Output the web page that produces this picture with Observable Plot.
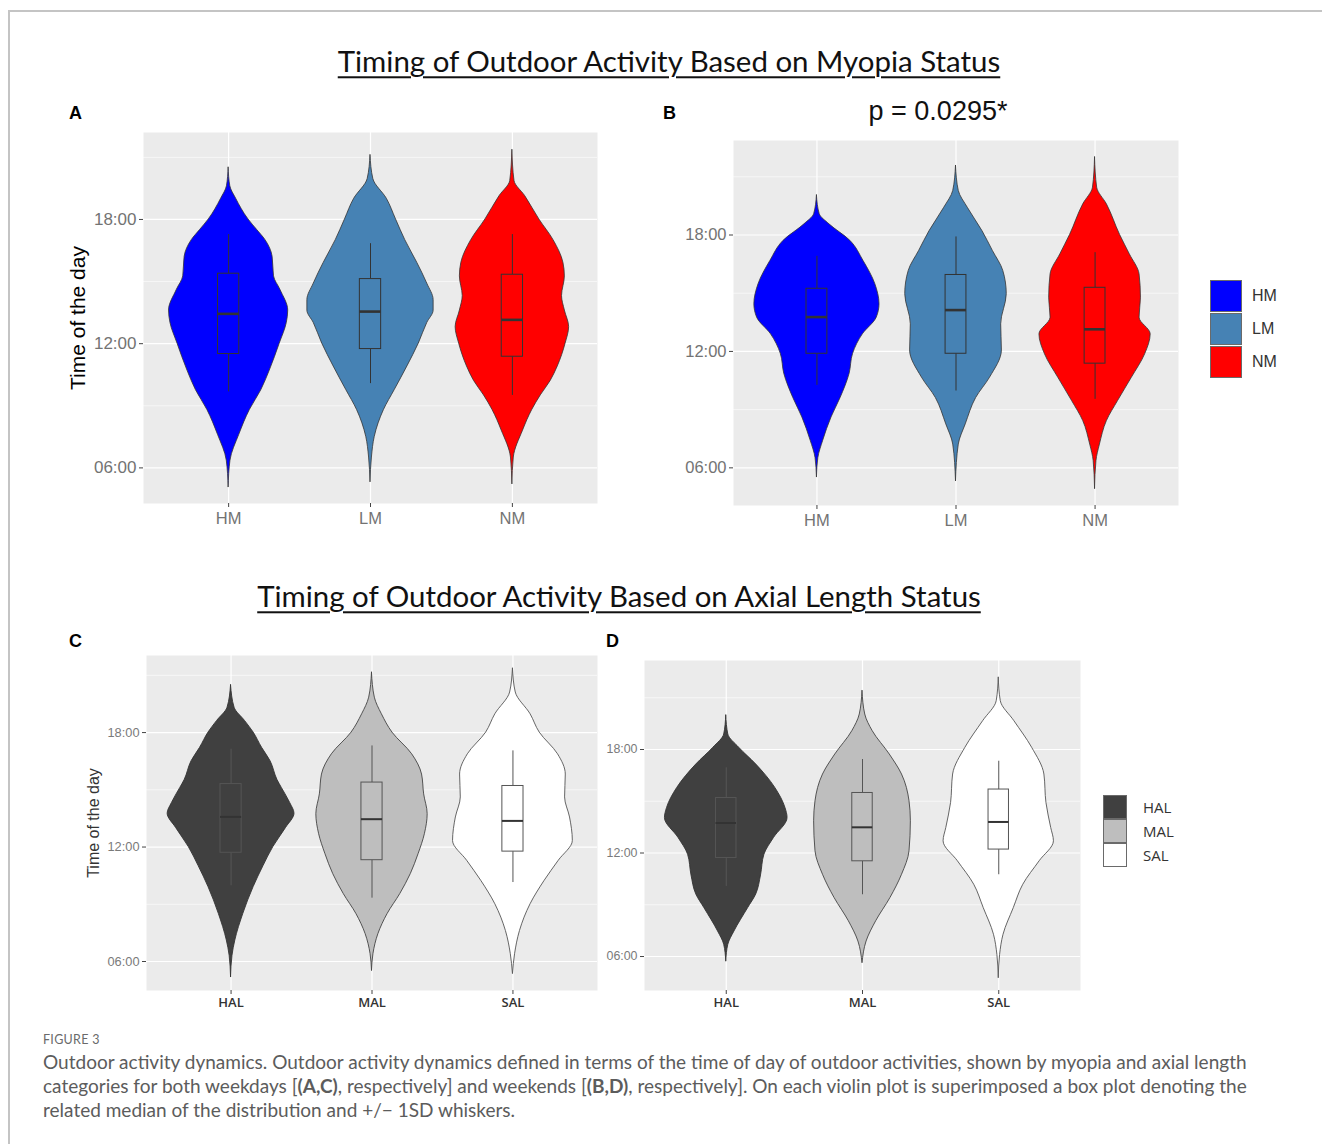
<!DOCTYPE html>
<html>
<head>
<meta charset="utf-8">
<script src="https://cdn.jsdelivr.net/npm/d3@7"></script>
<script src="https://cdn.jsdelivr.net/npm/@observablehq/plot@0.6"></script>
<style>
  body { margin: 0; background: #fff; }
  #fig { position: relative; width: 1322px; height: 1144px; overflow: hidden; font-family: "Liberation Sans", Arial, sans-serif; }
  .abs { position: absolute; white-space: nowrap; line-height: 1; }
  svg { position: absolute; }
</style>
</head>
<body>
<div id="fig"></div>
<script>
// ---------------- DATA ----------------
const myopiaCats = ["HM", "LM", "NM"];
const axialCats = ["HAL", "MAL", "SAL"];
const myopiaColors = ["#0000FF", "#4682B4", "#FF0000"];
const axialColors = ["#404040", "#BEBEBE", "#FFFFFF"];
const hourTicks = [6, 12, 18];
const minorHourTicks = [9, 15, 21];

// violin profiles: [hour of day, half-width in category units]
// Panel A (weekdays, myopia)
const violinA_HM = [[20.5,0],[19.6,0.012],[19.0,0.053],[18.0,0.14],[17.5,0.2],[17.0,0.26],[16.2,0.31],[15.25,0.32],[14.6,0.365],[13.6,0.42],[13.0,0.41],[12.0,0.36],[10.7,0.29],[9.75,0.23],[8.8,0.15],[7.6,0.075],[6.35,0.013],[5.05,0]];
const violinA_LM = [[21.1,0],[19.95,0.02],[19.0,0.115],[18.0,0.18],[17.0,0.245],[15.9,0.33],[14.9,0.40],[14.1,0.445],[13.6,0.445],[13.0,0.40],[12.0,0.34],[10.9,0.26],[9.75,0.17],[8.8,0.095],[7.5,0.03],[6.5,0.01],[5.3,0]];
const violinA_NM = [[21.35,0],[19.86,0.015],[19.13,0.09],[18.0,0.19],[17.0,0.29],[15.9,0.36],[15.25,0.37],[14.3,0.35],[13.6,0.37],[12.8,0.40],[12.0,0.375],[10.9,0.32],[10.2,0.27],[9.5,0.2],[8.8,0.14],[7.8,0.075],[6.5,0.01],[5.2,0]];
// Panel B (weekends, myopia)
const violinB_HM = [[20.04,0],[19.07,0.02],[18.55,0.09],[17.7,0.24],[16.66,0.335],[15.46,0.42],[14.43,0.45],[13.74,0.43],[12.88,0.33],[11.88,0.26],[10.85,0.235],[9.6,0.17],[8.6,0.105],[7.4,0.045],[6.5,0.01],[5.5,0]];
const violinB_LM = [[21.56,0],[20.27,0.02],[19.4,0.085],[18.2,0.19],[17.18,0.265],[16.15,0.34],[14.95,0.365],[13.4,0.325],[12.05,0.33],[10.65,0.245],[9.6,0.145],[8.24,0.07],[7.2,0.02],[5.3,0]];
const violinB_NM = [[22.0,0],[20.44,0.015],[19.58,0.085],[18.0,0.18],[17.0,0.25],[15.97,0.32],[14.77,0.33],[13.74,0.32],[12.88,0.40],[11.85,0.36],[10.65,0.265],[9.44,0.165],[8.41,0.085],[7.2,0.035],[6.35,0.01],[4.9,0]];
// Panel C (weekdays, axial length)
const violinC_HAL = [[20.48,0],[19.3,0.025],[18.6,0.1],[18.0,0.16],[17.2,0.22],[16.5,0.28],[15.5,0.33],[15.1,0.36],[14.3,0.42],[13.75,0.45],[13.0,0.39],[12.0,0.30],[11.0,0.23],[9.9,0.16],[8.5,0.087],[7.1,0.03],[6.3,0.01],[5.16,0]];
const violinC_MAL = [[21.14,0],[19.83,0.02],[18.96,0.07],[18.0,0.145],[16.86,0.285],[15.8,0.355],[14.76,0.37],[13.72,0.395],[12.67,0.375],[11.62,0.33],[10.58,0.275],[9.53,0.2],[8.48,0.11],[7.43,0.045],[6.38,0.01],[5.5,0]];
const violinC_SAL = [[21.35,0],[20.1,0.02],[18.96,0.125],[18.0,0.19],[16.86,0.32],[15.8,0.375],[14.6,0.37],[13.55,0.405],[12.32,0.425],[11.28,0.325],[10.23,0.225],[9.0,0.125],[7.6,0.05],[6.38,0.015],[5.34,0]];
// Panel D (weekends, axial length)
const violinD_HAL = [[19.97,0],[18.87,0.015],[18.1,0.095],[17.13,0.22],[15.77,0.36],[14.6,0.435],[14.03,0.45],[12.87,0.35],[11.9,0.28],[10.7,0.255],[9.6,0.22],[8.8,0.16],[7.45,0.06],[6.68,0.015],[5.7,0]];
const violinD_MAL = [[21.39,0],[20.03,0.02],[19.06,0.075],[17.71,0.2],[16.55,0.29],[15.0,0.345],[13.84,0.355],[12.1,0.345],[10.74,0.29],[9.39,0.205],[8.04,0.1],[6.87,0.03],[5.61,0]];
const violinD_SAL = [[22.16,0],[20.8,0.015],[19.64,0.115],[18.1,0.245],[16.55,0.335],[14.9,0.35],[13.45,0.385],[12.68,0.405],[11.52,0.30],[10.16,0.18],[8.8,0.11],[7.26,0.035],[6.1,0.01],[4.74,0]];

// box plots: [lower whisker (-1SD), lower hinge, median, upper hinge, upper whisker (+1SD)]
const boxesA = [[9.67,11.5,13.44,15.38,17.27],[10.07,11.74,13.55,15.12,16.83],[9.5,11.37,13.15,15.33,17.27]];
const boxesB = [[10.25,11.88,13.77,15.23,16.9],[9.96,11.88,14.13,15.94,17.9],[9.53,11.37,13.14,15.28,17.09]];
const boxesC = [[9.97,11.7,13.58,15.3,17.13],[9.32,11.31,13.46,15.38,17.3],[10.14,11.76,13.37,15.2,17.04]];
const boxesD = [[10.06,11.71,13.74,15.19,16.94],[9.58,11.52,13.49,15.48,17.42],[10.74,12.2,13.8,15.68,17.32]];

// ---------------- LAYOUT HELPERS ----------------
const fig = document.getElementById("fig");

function text(html, o) {
  const d = document.createElement("div");
  d.className = "abs";
  d.innerHTML = html;
  d.style.left = o.x + "px";
  d.style.top = o.y + "px";
  d.style.fontSize = o.size + "px";
  d.style.fontFamily = o.family || '"Liberation Sans", Arial, sans-serif';
  d.style.fontWeight = o.weight || "normal";
  d.style.color = o.color || "#000";
  d.style.transform = o.anchor === "start" ? "translate(0,-50%)" : "translate(-50%,-50%)";
  if (o.underline) {
    d.style.textDecoration = "underline";
    d.style.textDecorationThickness = "1.5px";
    d.style.textUnderlineOffset = "4px";
  }
  if (o.spacing) d.style.letterSpacing = o.spacing;
  fig.appendChild(d);
  if (o.fitWidth) {
    const w = d.getBoundingClientRect().width;
    d.style.fontSize = (o.size * o.fitWidth / w) + "px";
  }
  return d;
}

function violinPanel(cfg) {
  const vData = cfg.profiles.flatMap((prof, i) =>
    prof.map(([t, hw]) => ({k: i + 1, t, hw, fill: cfg.colors[i], stroke: cfg.violinStroke[i]})));
  const bData = cfg.boxes.map(([lo, q1, med, q3, hi], i) => ({k: i + 1, lo, q1, med, q3, hi, fill: cfg.colors[i]}));
  const [y0, y1] = cfg.yDomain;
  const bw = 0.075;
  const svg = Plot.plot({
    width: cfg.width,
    height: cfg.height,
    marginLeft: cfg.margin[3],
    marginRight: cfg.margin[1],
    marginTop: cfg.margin[0],
    marginBottom: cfg.margin[2],
    x: {domain: [0.4, 3.6]},
    y: {domain: cfg.yDomain},
    color: {type: "identity"},
    style: {fontFamily: '"Liberation Sans", Arial, sans-serif', background: "none", overflow: "visible"},
    marks: [
      Plot.frame({fill: "#EBEBEB", stroke: "none"}),
      Plot.gridY(minorHourTicks.filter(t => t > y0 && t < y1), {stroke: "#FFFFFF", strokeOpacity: 1, strokeWidth: 0.6}),
      Plot.gridY(hourTicks, {stroke: "#FFFFFF", strokeOpacity: 1, strokeWidth: 1.2}),
      Plot.gridX([1, 2, 3], {stroke: "#FFFFFF", strokeOpacity: 1, strokeWidth: 1.2}),
      Plot.areaX(vData, {
        y: "t", x1: d => d.k - d.hw, x2: d => d.k + d.hw, z: "k",
        fill: "fill", stroke: "stroke", strokeWidth: cfg.violinStrokeWidth, curve: "monotone-y"
      }),
      Plot.ruleX(bData, {x: "k", y1: "q3", y2: "hi", stroke: cfg.boxStroke, strokeWidth: 1}),
      Plot.ruleX(bData, {x: "k", y1: "lo", y2: "q1", stroke: cfg.boxStroke, strokeWidth: 1}),
      Plot.rect(bData, {x1: d => d.k - bw, x2: d => d.k + bw, y1: "q1", y2: "q3", fill: "fill", stroke: cfg.boxStroke, strokeWidth: 1}),
      Plot.ruleY(bData, {y: "med", x1: d => d.k - bw, x2: d => d.k + bw, stroke: "#333333", strokeWidth: cfg.medianWidth}),
      Plot.axisY({
        ticks: hourTicks, tickFormat: t => String(t).padStart(2, "0") + ":00",
        tickSize: 4, tickPadding: 3, fontSize: cfg.tickSize, fill: cfg.tickColor, stroke: "#444", label: null
      }),
      Plot.axisX({
        ticks: [1, 2, 3], tickFormat: i => cfg.cats[i - 1],
        tickSize: 4, tickPadding: cfg.xPad, fontSize: cfg.xSize, fill: cfg.xColor,
        fontFamily: cfg.xFamily, fontWeight: cfg.xWeight, stroke: "#444", label: null
      }),
      cfg.ylabel ? Plot.text([cfg.ylabel], {
        text: d => d, frameAnchor: "left", dx: cfg.ylabelDx, rotate: -90, textAnchor: "middle", lineAnchor: "middle",
        fontSize: cfg.ylabelSize, fill: cfg.ylabelColor
      }) : null
    ]
  });
  svg.style.left = cfg.left + "px";
  svg.style.top = cfg.top + "px";
  fig.appendChild(svg);
}

// ---------------- FRAME BORDER ----------------
const border = document.createElement("div");
border.style.cssText = "position:absolute;left:8px;top:10px;width:1330px;height:1200px;border-top:2px solid #c4c4c4;border-left:2px solid #c4c4c4;";
fig.appendChild(border);

// ---------------- TITLES ----------------
text("Timing of Outdoor Activity Based on Myopia Status", {x: 669, y: 61, size: 28, family: "Lato, 'Open Sans', sans-serif", color: "#111", underline: true, fitWidth: 663});
text("Timing of Outdoor Activity Based on Axial Length Status", {x: 619, y: 596, size: 28, family: "Lato, 'Open Sans', sans-serif", color: "#111", underline: true, fitWidth: 724});

// panel letters
text("A", {x: 69, y: 113, size: 18, weight: "bold", anchor: "start"});
text("B", {x: 663, y: 113, size: 18, weight: "bold", anchor: "start"});
text("C", {x: 69, y: 641, size: 18, weight: "bold", anchor: "start"});
text("D", {x: 606, y: 641, size: 18, weight: "bold", anchor: "start"});
text("p = 0.0295*", {x: 938, y: 111, size: 27, color: "#111"});

// ---------------- PANELS ----------------
violinPanel({
  cats: myopiaCats, colors: myopiaColors, profiles: [violinA_HM, violinA_LM, violinA_NM], boxes: boxesA,
  violinStroke: ["#333333", "#333333", "#333333"], violinStrokeWidth: 0.8,
  left: 40, top: 125, width: 565, height: 420, margin: [7, 8, 42, 103],
  yDomain: [4.28, 22.2], tickSize: 17, tickColor: "#737373",
  xSize: 16.5, xPad: 5, xColor: "#737373", xFamily: '"Liberation Sans", Arial, sans-serif', xWeight: "normal",
  boxStroke: "#333333", medianWidth: 2.6,
  ylabel: "Time of the day", ylabelDx: -65, ylabelSize: 21, ylabelColor: "#000"
});
violinPanel({
  cats: myopiaCats, colors: myopiaColors, profiles: [violinB_HM, violinB_LM, violinB_NM], boxes: boxesB,
  violinStroke: ["#333333", "#333333", "#333333"], violinStrokeWidth: 0.8,
  left: 660, top: 130, width: 530, height: 415, margin: [10, 12, 40, 73],
  yDomain: [4.06, 22.87], tickSize: 16.5, tickColor: "#737373",
  xSize: 16.5, xPad: 5, xColor: "#737373", xFamily: '"Liberation Sans", Arial, sans-serif', xWeight: "normal",
  boxStroke: "#333333", medianWidth: 2.6,
  ylabel: null
});
violinPanel({
  cats: axialCats, colors: axialColors, profiles: [violinC_HAL, violinC_MAL, violinC_SAL], boxes: boxesC,
  violinStroke: ["#333333", "#444444", "#555555"], violinStrokeWidth: 0.9,
  left: 60, top: 645, width: 545, height: 375, margin: [10, 8, 30, 86],
  yDomain: [4.48, 22.04], tickSize: 12.8, tickColor: "#7a7a7a",
  xSize: 13, xPad: 3, xColor: "#333333", xFamily: '"Open Sans", sans-serif', xWeight: 600,
  boxStroke: "#555555", medianWidth: 2,
  ylabel: "Time of the day", ylabelDx: -53, ylabelSize: 16, ylabelColor: "#333"
});
violinPanel({
  cats: axialCats, colors: axialColors, profiles: [violinD_HAL, violinD_MAL, violinD_SAL], boxes: boxesD,
  violinStroke: ["#333333", "#444444", "#555555"], violinStrokeWidth: 0.9,
  left: 600, top: 650, width: 490, height: 370, margin: [10, 10, 30, 44],
  yDomain: [4.03, 23.16], tickSize: 12.4, tickColor: "#7a7a7a",
  xSize: 13, xPad: 3, xColor: "#333333", xFamily: '"Open Sans", sans-serif', xWeight: 600,
  boxStroke: "#555555", medianWidth: 2,
  ylabel: null
});

// ---------------- LEGENDS ----------------
function legend(cats, colors, o) {
  cats.forEach((c, i) => {
    const k = document.createElement("div");
    k.style.cssText = `position:absolute;left:${o.x}px;top:${o.y + i * o.step}px;width:${o.key}px;height:${o.key}px;` +
      `background:${colors[i]};border:1px solid #6a6a6a;box-sizing:border-box;`;
    fig.appendChild(k);
    text(c, {x: o.x + o.key + o.gap, y: o.y + i * o.step + o.key / 2, size: o.size, family: o.family, color: "#333", anchor: "start", weight: o.weight});
  });
}
legend(myopiaCats, myopiaColors, {x: 1210, y: 280, key: 32, step: 33, gap: 10, size: 16, family: '"Liberation Sans", Arial, sans-serif'});
legend(axialCats, axialColors, {x: 1103, y: 795, key: 24, step: 24, gap: 16, size: 15, family: '"Open Sans", sans-serif'});

// ---------------- CAPTION ----------------
text("FIGURE 3", {x: 43, y: 1040, size: 12.5, family: "Lato, sans-serif", color: "#6a6a6a", anchor: "start", spacing: "0.3px"});
const capStyle = {size: 17, family: "Lato, sans-serif", color: "#5c5c5c", anchor: "start"};
const l1 = text("Outdoor activity dynamics. Outdoor activity dynamics defined in terms of the time of day of outdoor activities, shown by myopia and axial length", {...capStyle, x: 43, y: 1062, fitWidth: 1205});
const capSize = parseFloat(l1.style.fontSize);
text("categories for both weekdays [<b>(A,C)</b>, respectively] and weekends [<b>(B,D)</b>, respectively]. On each violin plot is superimposed a box plot denoting the", {...capStyle, size: capSize, x: 43, y: 1086});
text("related median of the distribution and +/− 1SD whiskers.", {...capStyle, size: capSize, x: 43, y: 1110});
</script>
</body>
</html>
